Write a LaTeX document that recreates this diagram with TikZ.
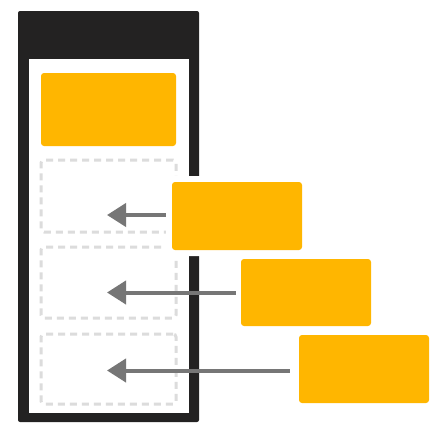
\documentclass[tikz,border=0pt]{standalone}
\usepackage{tikz}
\usetikzlibrary{arrows.meta}
\definecolor{phone}{HTML}{232222}
\definecolor{tile}{HTML}{FFB600}
\definecolor{pointer}{HTML}{767676}
\definecolor{slotline}{HTML}{DCDCDC}
\tikzset{>={Triangle[length=19pt,width=23pt]},
  tilebox/.style={fill=tile,rounded corners=3pt,inner sep=0pt,
    minimum width=130pt,minimum height=68pt},
  slotbox/.style={draw=slotline,line width=3pt,dash pattern=on 7pt off 5pt,
    rounded corners=3pt,inner sep=0pt,minimum width=135pt},
  pointer/.style={->,draw=pointer,line width=4pt,shorten <=6pt}}

\begin{document}
\begin{tikzpicture}[x=1pt,y=-1pt]
\useasboundingbox (0,0) rectangle (447,424);
\fill[phone,rounded corners=2pt] (18,11) rectangle (199,422);
\fill[white] (29,59) rectangle (189,413);
\node[tilebox,minimum width=135pt,minimum height=73pt] (header) at (108.5,109.5) {};
\node[slotbox,minimum height=72pt] (slot1) at (108.5,196) {};
\node[slotbox,minimum height=71pt] (slot2) at (108.5,282.5) {};
\node[slotbox,minimum height=70pt] (slot3) at (108.5,369) {};
\node[tilebox,preaction={draw=white,line width=12pt}] (card1) at (237,216) {};
\node[tilebox,minimum height=67pt] (card2) at (306,292.5) {};
\node[tilebox] (card3) at (364,369) {};
\coordinate (tip1) at (107,215);
\coordinate (tip2) at (107,292.5);
\coordinate (tip3) at (107,370.5);
\draw[pointer] (card1.west |- tip1) -- (tip1);
\draw[pointer,shorten <=5pt] (card2.west |- tip2) -- (tip2);
\draw[pointer,shorten <=9pt] (card3.west |- tip3) -- (tip3);
\end{tikzpicture}
\end{document}
